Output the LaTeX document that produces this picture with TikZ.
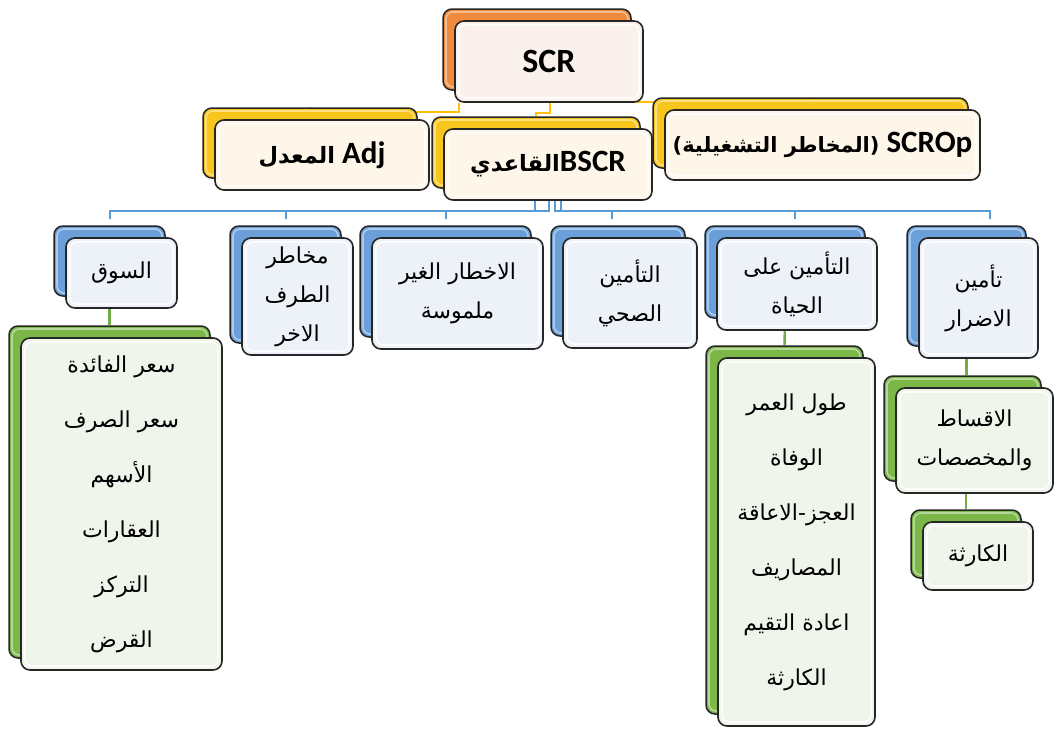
\documentclass[tikz,border=0pt]{standalone}
\usepackage{fontspec}
\setmainfont{Carlito}
\newfontfamily\arabicfont[Script=Arabic]{DejaVu Sans}
\TeXXeTstate=1
\usetikzlibrary{backgrounds}

% Arabic text, set right to left
\newcommand\ar[1]{{\arabicfont\beginR #1\endR}}
% Arabic text inside the bold header boxes, size as optional argument
\newcommand\arb[2][22.5]{{\arabicfont\fontsize{#1}{26}\selectfont\beginR #2\endR}}

\definecolor{cOrange}{HTML}{F08A3C}
\definecolor{cOrangeL}{HTML}{FBF1EC}
\definecolor{cYellow}{HTML}{F8C51C}
\definecolor{cYellowL}{HTML}{FEF7E9}
\definecolor{cBlue}{HTML}{6A9FDA}
\definecolor{cBlueL}{HTML}{EDF2F9}
\definecolor{cGreen}{HTML}{7BB848}
\definecolor{cGreenL}{HTML}{F0F5EC}
\definecolor{lYellow}{HTML}{FFC000}
\definecolor{lBlue}{HTML}{5B9BD5}
\definecolor{lGreen}{HTML}{70AD47}

% two stacked rounded boxes: a coloured one behind, a pale one in front
% #1 name, #2 back colour, #3 front colour, #4 text style, #5 #6 centre, #7 #8 size, #9 text
\newcommand\duo[9]{%
  \node[backbox=#2, minimum width=#7pt, minimum height=#8pt] (#1-b) at (#5-12,#6-12) {};
  \node[frontbox=#3, #4, minimum width=#7pt, minimum height=#8pt] (#1) at (#5,#6) {#9};
}

\begin{document}
\begin{tikzpicture}[x=1pt,y=-1pt,
  backbox/.style={draw=black!85, line width=1.5pt, rounded corners=9pt, fill=#1, inner sep=0pt,
    path picture={\draw[white, line width=1.6pt, opacity=.45, rounded corners=7pt]
      ([shift={(3pt,-3pt)}]path picture bounding box.north west) rectangle
      ([shift={(-3pt,3pt)}]path picture bounding box.south east);}},
  frontbox/.style={draw=black!85, line width=1.6pt, rounded corners=9pt, fill=#1, inner sep=2pt, align=center,
    path picture={\draw[white, line width=1.6pt, opacity=.8, rounded corners=7pt]
      ([shift={(4pt,-4pt)}]path picture bounding box.north west) rectangle
      ([shift={(-4pt,4pt)}]path picture bounding box.south east);}},
  t1/.style={font=\bfseries\fontsize{34}{40}\selectfont},
  t2/.style={font=\bfseries\fontsize{31}{36}\selectfont},
  t3/.style={font=\fontsize{22}{39}\selectfont},
  t4/.style={font=\fontsize{22}{55}\selectfont},
  yline/.style={draw=lYellow, line width=1.8pt},
  bline/.style={draw=lBlue, line width=2pt},
  gline/.style={draw=lGreen, line width=2.4pt}]

\useasboundingbox (0,0) rectangle (1058,729);

% top level
\duo{SCR}{cOrange}{cOrangeL}{t1}{549}{61.5}{188}{81}{SCR}
\duo{Adj}{cYellow}{cYellowL}{t2}{322}{155}{214}{70}{\arb{المعدل} Adj}
\duo{BSCR}{cYellow}{cYellowL}{t2}{548}{164.5}{208}{71}{\arb{القاعدي}BSCR}
\duo{SCROp}{cYellow}{cYellowL}{t2}{822.5}{145}{315}{70}{\arb[21]{(المخاطر التشغيلية)} SCROp}

% modules of the basic SCR
\duo{Market}{cBlue}{cBlueL}{t3}{121.5}{273}{111}{70}{\ar{السوق}}
\duo{Party}{cBlue}{cBlueL}{t3}{297.5}{296.5}{111}{117}{\ar{مخاطر}\\\ar{الطرف}\\\ar{الاخر}}
\duo{Intang}{cBlue}{cBlueL}{t3}{457.5}{293.5}{171}{111}{\ar{الاخطار الغير}\\\ar{ملموسة}}
\duo{Health}{cBlue}{cBlueL}{t3}{630}{293}{134}{110}{\ar{التأمين}\\\ar{الصحي}}
\duo{Life}{cBlue}{cBlueL}{t3}{797}{284}{160}{92}{\ar{التأمين على}\\\ar{الحياة}}
\duo{Damage}{cBlue}{cBlueL}{t3}{978.5}{298}{119}{120}{\ar{تأمين}\\\ar{الاضرار}}

% sub-modules
\duo{MList}{cGreen}{cGreenL}{t4}{121.5}{504}{201}{332}{\ar{سعر الفائدة}\\\ar{سعر الصرف}\\\ar{الأسهم}\\\ar{العقارات}\\\ar{التركز}\\\ar{القرض}}
\duo{LList}{cGreen}{cGreenL}{t4}{796.5}{542}{157}{368}{\ar{طول العمر}\\\ar{الوفاة}\\\ar{العجز-الاعاقة}\\\ar{المصاريف}\\\ar{اعادة التقيم}\\\ar{الكارثة}}
\duo{Prem}{cGreen}{cGreenL}{t3}{974.5}{440.5}{157}{105}{\ar{الاقساط}\\\ar{والمخصصات}}
\duo{Cat}{cGreen}{cGreenL}{t3}{978}{556}{110}{68}{\ar{الكارثة}}

\begin{pgfonlayer}{background}
  \fill[white] (0,0) rectangle (1058,729);
  % SCR to its three parts
  \draw[yline] ([xshift=5pt]SCR.south west) -- ++(0,9) -| (Adj-b.north);
  \draw[yline] ([xshift=1pt]SCR.south) -- ++(0,10) -| (BSCR-b.north);
  \draw[yline] ([xshift=-10pt,yshift=1pt]SCR.south east) -| (SCROp-b.north);
  % basic SCR to its modules
  \foreach \c/\dx/\ox in {Market/-13/0, Party/-13/0, Intang/1/0, Health/7/-6, Life/13/10, Damage/13/23}
    \draw[bline] ([xshift=\dx pt]BSCR.south) -- ++(0,10) -| ([xshift=\ox pt, yshift=6pt]\c-b.north);
  % modules to sub-modules
  \draw[gline] (Market-b.south) -- (MList-b.north);
  \draw[gline] (Life-b.south) -- (LList-b.north);
  \draw[gline] (Damage-b.south) -- (Damage-b.south |- Prem-b.north);
  \draw[gline] (Cat-b.north |- Prem-b.south) -- (Cat-b.north);
\end{pgfonlayer}
\end{tikzpicture}
\end{document}
